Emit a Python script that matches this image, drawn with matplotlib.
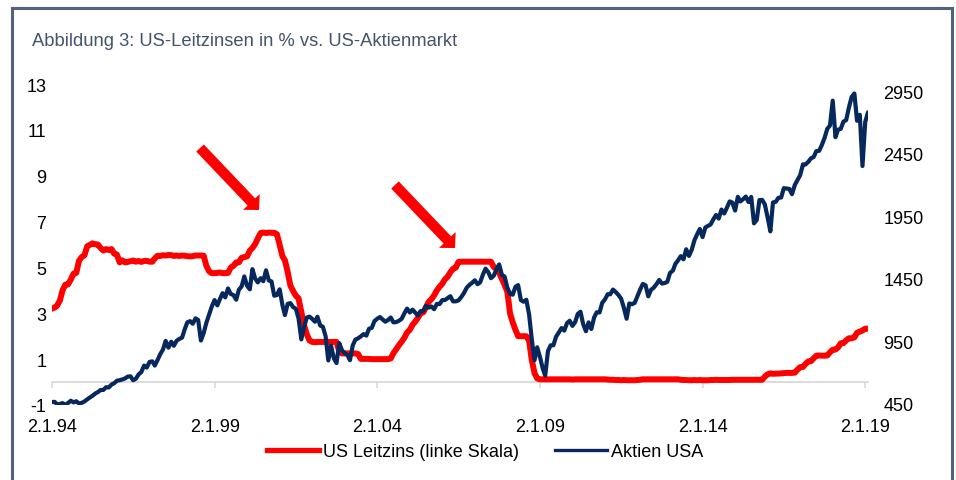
import matplotlib
matplotlib.use('Agg')
import matplotlib.pyplot as plt
import pandas as pd
from matplotlib.lines import Line2D

# ---------------- data ----------------
months = pd.date_range('1994-01-01', '2019-02-01', freq='MS')

leitzins = [
    3.20, 3.25, 3.34, 3.56, 4.01, 4.25, 4.26, 4.47, 4.73, 4.76, 5.29, 5.45,   # 1994
    5.53, 5.92, 5.98, 6.05, 6.01, 6.00, 5.85, 5.74, 5.80, 5.76, 5.80, 5.60,   # 1995
    5.56, 5.22, 5.31, 5.22, 5.24, 5.27, 5.30, 5.25, 5.28, 5.24, 5.28, 5.29,   # 1996
    5.25, 5.25, 5.39, 5.51, 5.50, 5.53, 5.52, 5.54, 5.54, 5.50, 5.52, 5.50,   # 1997
    5.52, 5.51, 5.49, 5.48, 5.49, 5.52, 5.52, 5.52, 5.51, 5.07, 4.83, 4.75,   # 1998
    4.75, 4.76, 4.78, 4.75, 4.75, 4.76, 4.99, 5.07, 5.22, 5.22, 5.42, 5.45,   # 1999
    5.48, 5.73, 5.85, 6.02, 6.27, 6.50, 6.52, 6.50, 6.52, 6.51, 6.51, 6.45,   # 2000
    5.98, 5.49, 5.31, 4.80, 4.21, 3.97, 3.77, 3.65, 3.07, 2.49, 2.09, 1.82,   # 2001
    1.75, 1.74, 1.75, 1.75, 1.75, 1.75, 1.75, 1.75, 1.75, 1.75, 1.34, 1.25,   # 2002
    1.25, 1.25, 1.25, 1.25, 1.25, 1.22, 1.01, 1.01, 1.01, 1.01, 1.00, 1.00,   # 2003
    1.00, 1.00, 1.00, 1.00, 1.00, 1.03, 1.26, 1.43, 1.61, 1.76, 1.93, 2.16,   # 2004
    2.28, 2.50, 2.63, 2.79, 3.00, 3.04, 3.26, 3.50, 3.62, 3.78, 4.00, 4.16,   # 2005
    4.29, 4.49, 4.59, 4.79, 4.94, 4.99, 5.24, 5.25, 5.25, 5.25, 5.25, 5.25,   # 2006
    5.25, 5.25, 5.25, 5.25, 5.25, 5.25, 5.25, 5.02, 4.94, 4.76, 4.49, 4.24,   # 2007
    3.94, 2.98, 2.61, 2.28, 2.00, 2.00, 2.00, 2.00, 1.81, 0.97, 0.39, 0.16,   # 2008
    0.12, 0.12, 0.12, 0.12, 0.12, 0.12, 0.12, 0.12, 0.12, 0.12, 0.12, 0.12,   # 2009
    0.11, 0.12, 0.12, 0.12, 0.12, 0.12, 0.12, 0.12, 0.12, 0.12, 0.12, 0.12,   # 2010
    0.12, 0.11, 0.10, 0.10, 0.09, 0.09, 0.08, 0.09, 0.08, 0.08, 0.08, 0.08,   # 2011
    0.09, 0.10, 0.12, 0.12, 0.12, 0.12, 0.12, 0.12, 0.12, 0.12, 0.12, 0.12,   # 2012
    0.12, 0.12, 0.12, 0.12, 0.10, 0.09, 0.09, 0.08, 0.08, 0.09, 0.08, 0.09,   # 2013
    0.08, 0.08, 0.08, 0.09, 0.09, 0.10, 0.09, 0.09, 0.09, 0.09, 0.09, 0.10,   # 2014
    0.10, 0.10, 0.10, 0.10, 0.10, 0.10, 0.10, 0.10, 0.10, 0.10, 0.10, 0.24,   # 2015
    0.34, 0.38, 0.36, 0.37, 0.37, 0.38, 0.39, 0.40, 0.40, 0.40, 0.41, 0.54,   # 2016
    0.65, 0.66, 0.79, 0.90, 0.91, 1.04, 1.15, 1.16, 1.15, 1.15, 1.16, 1.30,   # 2017
    1.41, 1.42, 1.51, 1.69, 1.70, 1.82, 1.91, 1.91, 1.95, 2.15, 2.20, 2.25,   # 2018
    2.33, 2.33,                                                               # 2019
]

aktien = [
    466, 467, 446, 451, 457, 444, 458, 476, 463, 472, 454, 459,               # 1994
    470, 487, 501, 515, 533, 545, 562, 562, 584, 582, 605, 616,               # 1995
    636, 640, 646, 654, 669, 671, 640, 652, 687, 705, 757, 741,               # 1996
    786, 791, 757, 801, 848, 885, 954, 900, 947, 915, 955, 970,               # 1997
    980, 1049, 1102, 1112, 1091, 1134, 1121, 957, 1017, 1099, 1164, 1229,     # 1998
    1280, 1238, 1286, 1335, 1302, 1373, 1329, 1320, 1283, 1363, 1389, 1469,   # 1999
    1394, 1366, 1527, 1452, 1421, 1455, 1431, 1518, 1437, 1429, 1315, 1320,   # 2000
    1366, 1240, 1160, 1250, 1256, 1224, 1211, 1134, 966, 1060, 1140, 1148,    # 2001
    1130, 1107, 1147, 1077, 1067, 990, 798, 916, 815, 777, 936, 880,          # 2002
    856, 841, 800, 917, 964, 975, 990, 1008, 996, 1051, 1058, 1112,           # 2003
    1131, 1145, 1126, 1107, 1121, 1141, 1102, 1104, 1115, 1130, 1174, 1212,   # 2004
    1181, 1204, 1181, 1157, 1192, 1191, 1234, 1220, 1229, 1207, 1250, 1248,   # 2005
    1280, 1281, 1295, 1311, 1270, 1270, 1277, 1304, 1336, 1378, 1401, 1418,   # 2006
    1438, 1407, 1421, 1482, 1531, 1503, 1455, 1474, 1527, 1565, 1481, 1468,   # 2007
    1379, 1331, 1323, 1386, 1400, 1280, 1267, 1283, 1166, 969, 800, 903,      # 2008
    826, 735, 676, 873, 919, 919, 988, 1021, 1057, 1036, 1096, 1115,          # 2009
    1074, 1105, 1169, 1187, 1089, 1031, 1102, 1049, 1141, 1183, 1181, 1258,   # 2010
    1286, 1327, 1326, 1364, 1345, 1321, 1292, 1219, 1131, 1253, 1247, 1258,   # 2011
    1312, 1366, 1409, 1398, 1310, 1362, 1379, 1407, 1441, 1412, 1416, 1426,   # 2012
    1498, 1515, 1569, 1598, 1631, 1606, 1686, 1633, 1682, 1757, 1806, 1848,   # 2013
    1783, 1860, 1872, 1884, 1924, 1960, 1931, 2003, 1972, 2018, 2068, 2059,   # 2014
    1995, 2105, 2068, 2086, 2107, 2063, 2104, 1893, 1920, 2079, 2080, 2044,   # 2015
    1940, 1829, 2060, 2065, 2097, 2099, 2174, 2171, 2168, 2126, 2199, 2239,   # 2016
    2279, 2364, 2363, 2384, 2412, 2423, 2470, 2472, 2519, 2575, 2648, 2674,   # 2017
    2873, 2581, 2641, 2648, 2705, 2718, 2816, 2902, 2930, 2712, 2760, 2351,   # 2018
    2704, 2780,                                                               # 2019
]

x_tick_dates = ['1994-01-02', '1999-01-02', '2004-01-02', '2009-01-02', '2014-01-02', '2019-01-02']
x_tick_labels = ['2.1.94', '2.1.99', '2.1.04', '2.1.09', '2.1.14', '2.1.19']
left_ticks = [-1, 1, 3, 5, 7, 9, 11, 13]
right_ticks = [450, 950, 1450, 1950, 2450, 2950]
title = 'Abbildung 3: US-Leitzinsen in % vs. US-Aktienmarkt'
series_names = ['US Leitzins (linke Skala)', 'Aktien USA']

# ---------------- styling ----------------
plt.rcParams['font.family'] = ['Liberation Sans', 'DejaVu Sans']
RED = '#FF0000'
NAVY = '#06285C'
FRAME = '#53637E'
TITLE_C = '#44546A'
AXIS_C = '#D9D9D9'
FS = 13

W, H = 956, 481
fig = plt.figure(figsize=(W / 100, H / 100), dpi=100)
fig.patch.set_facecolor('white')

ax = fig.add_axes([52 / W, 1 - 406 / H, 816 / W, 321 / H])
ax.set_xlim(pd.Timestamp('1994-01-02'), pd.Timestamp('2019-02-01'))
ax.set_ylim(-1, 13)
ax2 = ax.twinx()
ax2.set_ylim(442, 3006)

ax.plot(months, leitzins, color=RED, lw=4.3, solid_joinstyle='round', solid_capstyle='round', zorder=3)
ax2.plot(months, aktien, color=NAVY, lw=3.0, solid_joinstyle='round', solid_capstyle='round', zorder=4)

# axes styling
for s in ['left', 'right', 'top']:
    ax.spines[s].set_visible(False)
for s in ax2.spines.values():
    s.set_visible(False)
ax.spines['bottom'].set_position(('data', 0))
ax.spines['bottom'].set_color(AXIS_C)
ax.spines['bottom'].set_linewidth(1.3)
ax.spines['bottom'].set_zorder(1)

ax.set_xticks([pd.Timestamp(d) for d in x_tick_dates])
ax.set_xticklabels(x_tick_labels)
ax.tick_params(axis='x', direction='out', length=4, width=1.2, color=AXIS_C,
               pad=22, labelsize=FS, labelcolor='black')
ax.set_yticks(left_ticks)
ax.set_yticklabels([str(v) for v in left_ticks])
ax.tick_params(axis='y', length=0, pad=4, labelsize=FS, labelcolor='black')
ax2.set_yticks(right_ticks)
ax2.set_yticklabels([str(v) for v in right_ticks])
ax2.tick_params(axis='y', length=0, pad=11, labelsize=FS, labelcolor='black')

# arrows (annotations)
arrow_kw = dict(facecolor=RED, edgecolor='none', width=7.5, headwidth=16.5,
                headlength=8.0, shrink=0)
ax2.annotate('', xy=(0.2537, 0.6075), xycoords='axes fraction',
             xytext=(0.1814, 0.8006), textcoords='axes fraction', arrowprops=arrow_kw)
ax2.annotate('', xy=(0.4939, 0.4891), xycoords='axes fraction',
             xytext=(0.4203, 0.6854), textcoords='axes fraction', arrowprops=arrow_kw)

# title
fig.text(32 / W, 1 - 42 / H, title, ha='left', va='center', fontsize=13.2, color=TITLE_C)

# legend
handles = [Line2D([], [], color=RED, lw=3.8), Line2D([], [], color=NAVY, lw=2.4)]
fig.legend(handles, series_names, loc='center', bbox_to_anchor=(485 / W, 1 - 453 / H),
           ncol=2, frameon=False, fontsize=FS, handlelength=2.9, handletextpad=0.2,
           columnspacing=2.0)

# outer frame (open at the bottom)
top_y = 1 - 8.5 / H
fig.add_artist(Line2D([11.5 / W, 11.5 / W], [0, top_y], color=FRAME, lw=2.2))
fig.add_artist(Line2D([11.5 / W, 952 / W], [top_y, top_y], color=FRAME, lw=2.2))
fig.add_artist(Line2D([952 / W, 952 / W], [0, top_y], color=FRAME, lw=2.2))

fig.savefig('out.png', dpi=100, facecolor='white')
